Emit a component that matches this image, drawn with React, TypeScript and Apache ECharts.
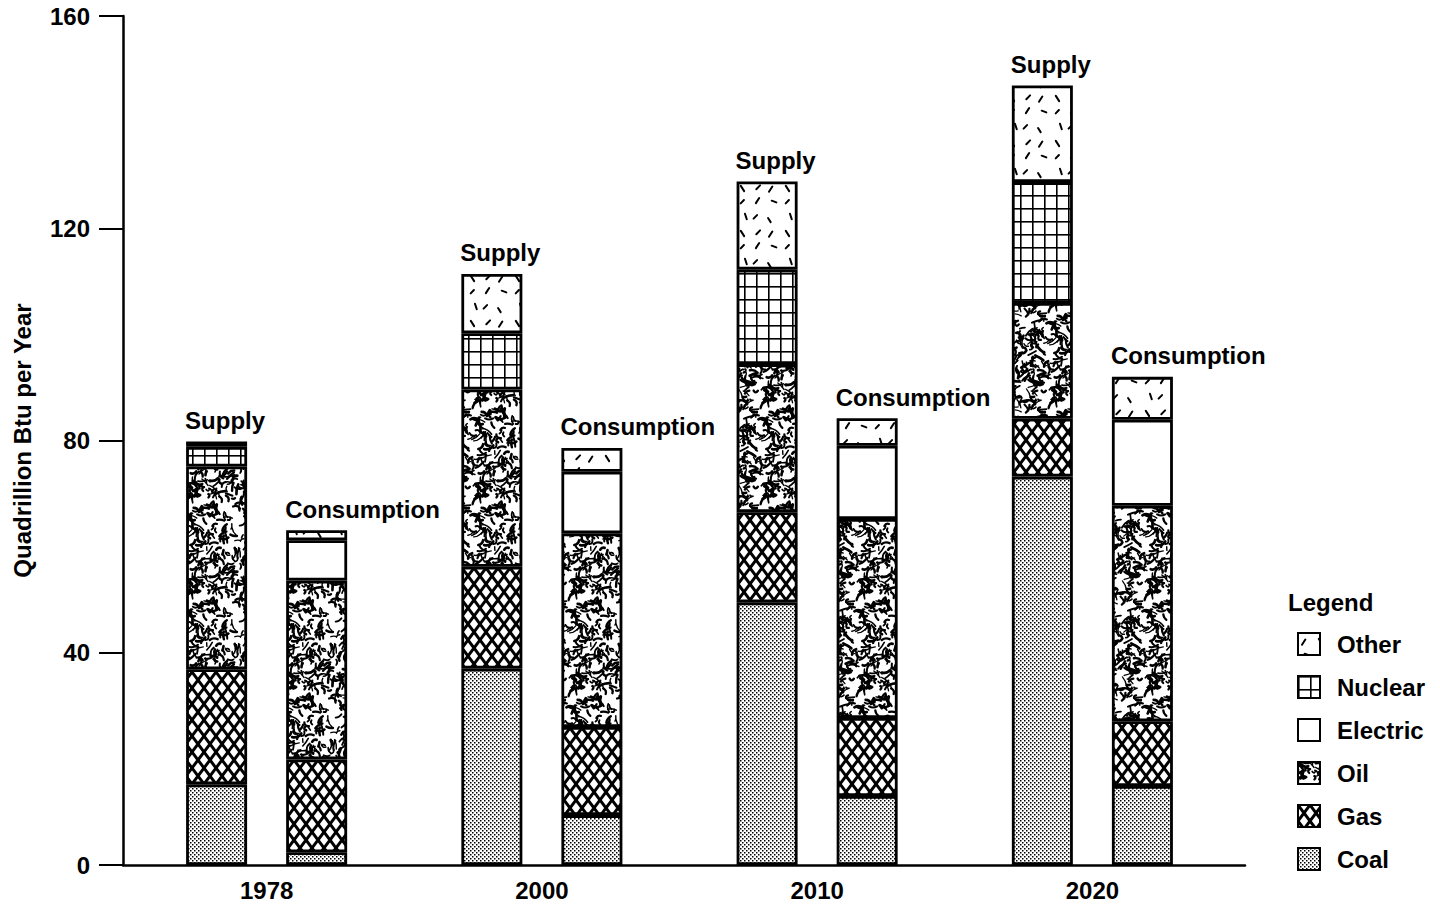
import React, { useEffect, useRef } from 'react';
import * as echarts from 'echarts';

// ---- data (Quadrillion Btu per Year) ----
const years = ['1978', '2000', '2010', '2020'];

const supplyCoal = [15.2, 37.0, 49.5, 73.2];
const supplyGas = [21.7, 19.2, 17.0, 10.9];
const supplyOil = [38.2, 33.4, 27.9, 21.8];
const supplyNuclear = [3.7, 10.6, 17.8, 22.8];
const supplyOther = [1.0, 11.2, 16.6, 18.2];

const consCoal = [2.4, 9.4, 13.0, 14.9];
const consGas = [17.5, 16.6, 14.7, 12.2];
const consOil = [33.7, 36.5, 37.5, 40.6];
const consElectric = [7.6, 11.6, 13.8, 16.2];
const consOther = [1.9, 4.5, 5.2, 8.1];

const legendOrder = ['Other', 'Nuclear', 'Electric', 'Oil', 'Gas', 'Coal'];
const yMin = 0;
const yMax = 160;
const yInterval = 40;

const FONT = '"Liberation Sans", Arial, Helvetica, sans-serif';

// ---- deterministic texture helpers ----
function seeded(seed: number) {
  let s = seed >>> 0;
  return () => {
    s = (Math.imul(s, 1664525) + 1013904223) >>> 0;
    return s / 4294967296;
  };
}

function makeTile(w: number, h: number, draw: (ctx: CanvasRenderingContext2D, w: number, h: number) => void) {
  const c = document.createElement('canvas');
  c.width = w;
  c.height = h;
  const ctx = c.getContext('2d') as CanvasRenderingContext2D;
  ctx.fillStyle = '#ffffff';
  ctx.fillRect(0, 0, w, h);
  draw(ctx, w, h);
  return { image: c, repeat: 'repeat', imageWidth: w, imageHeight: h } as any;
}

function wrapDraw(w: number, h: number, fn: (dx: number, dy: number) => void) {
  for (const dx of [-w, 0, w]) for (const dy of [-h, 0, h]) fn(dx, dy);
}

function buildPatterns() {
  const coal = makeTile(4, 4, (ctx) => {
    ctx.fillStyle = '#000';
    ctx.fillRect(0, 0, 1.5, 1.5);
    ctx.fillRect(2, 2, 1.5, 1.5);
  });

  const gas = makeTile(12, 16, (ctx, w, h) => {
    ctx.strokeStyle = '#000';
    ctx.lineWidth = 3;
    wrapDraw(w, h, (dx, dy) => {
      ctx.beginPath();
      ctx.moveTo(dx, dy);
      ctx.lineTo(dx + w, dy + h);
      ctx.moveTo(dx + w, dy);
      ctx.lineTo(dx, dy + h);
      ctx.stroke();
    });
  });

  const oil = makeTile(96, 96, (ctx, w, h) => {
    const r = seeded(17);
    ctx.strokeStyle = '#000';
    ctx.lineCap = 'round';
    ctx.lineJoin = 'round';
    for (let i = 0; i < 330; i++) {
      const x = r() * w;
      const y = r() * h;
      const a = r() * Math.PI * 2;
      const len = 3 + r() * 7;
      const lw = 1.2 + r() * 1.6;
      const bend = (r() - 0.5) * 7;
      const x2 = x + Math.cos(a) * len;
      const y2 = y + Math.sin(a) * len;
      const cx = (x + x2) / 2 - Math.sin(a) * bend;
      const cy = (y + y2) / 2 + Math.cos(a) * bend;
      ctx.lineWidth = lw;
      wrapDraw(w, h, (dx, dy) => {
        ctx.beginPath();
        ctx.moveTo(x + dx, y + dy);
        ctx.quadraticCurveTo(cx + dx, cy + dy, x2 + dx, y2 + dy);
        ctx.stroke();
      });
    }
  });

  const nuclear = makeTile(12, 13, (ctx) => {
    ctx.fillStyle = '#000';
    ctx.fillRect(0, 0, 12, 1.6);
    ctx.fillRect(0, 0, 1.6, 13);
  });

  const other = makeTile(45, 45, (ctx, w, h) => {
    const r = seeded(5);
    ctx.strokeStyle = '#000';
    ctx.lineCap = 'round';
    const angles = [1.0, -1.0, 0.35, -0.5, 1.25, -0.8];
    for (let i = 0; i < 3; i++) {
      for (let j = 0; j < 3; j++) {
        const cx = (i + 0.5) * 15 + (r() - 0.5) * 7;
        const cy = (j + 0.5) * 15 + (r() - 0.5) * 7;
        const a = angles[Math.floor(r() * angles.length)];
        const len = 4.5 + r() * 2;
        ctx.lineWidth = 2;
        wrapDraw(w, h, (dx, dy) => {
          ctx.beginPath();
          ctx.moveTo(cx + dx - (Math.cos(a) * len) / 2, cy + dy - (Math.sin(a) * len) / 2);
          ctx.lineTo(cx + dx + (Math.cos(a) * len) / 2, cy + dy + (Math.sin(a) * len) / 2);
          ctx.stroke();
        });
      }
    }
  });

  return { Coal: coal, Gas: gas, Oil: oil, Electric: '#ffffff', Nuclear: nuclear, Other: other } as Record<string, any>;
}

export default function App() {
  const ref = useRef<HTMLDivElement>(null);

  useEffect(() => {
    if (!ref.current) return;
    const chart = echarts.init(ref.current, undefined, { renderer: 'svg' });
    const pat = buildPatterns();

    const bar = (name: string, stack: string, data: number[], labelText?: string) => ({
      type: 'bar',
      name,
      stack,
      data,
      xAxisIndex: 1,
      yAxisIndex: 1,
      barWidth: 61,
      barGap: '64%',
      silent: true,
      itemStyle: { color: pat[name], borderColor: '#000', borderWidth: 2.8 },
      emphasis: { disabled: true },
      label: labelText
        ? {
            show: true,
            position: [-1, -9],
            align: 'left',
            verticalAlign: 'bottom',
            formatter: labelText,
            fontSize: 24,
            fontWeight: 'bold',
            fontFamily: FONT,
            color: '#000',
          }
        : { show: false },
    });

    const option: any = {
      animation: false,
      backgroundColor: '#ffffff',
      title: {
        text: 'Legend',
        left: 1283,
        top: 585,
        textStyle: { fontSize: 24, fontWeight: 'bold', fontFamily: FONT, color: '#000' },
      },
      legend: {
        orient: 'vertical',
        left: 1292,
        top: 627,
        itemWidth: 22,
        itemHeight: 22,
        itemGap: 19,
        icon: 'rect',
        data: legendOrder,
        selectedMode: false,
        itemStyle: { borderColor: '#000', borderWidth: 2 },
        textStyle: { fontSize: 24, fontWeight: 'bold', fontFamily: FONT, color: '#000', padding: [0, 0, 0, 12] },
      },
      grid: [
        { left: 123, right: 195, top: 16, bottom: 45 },
        { left: 129, width: 1101, top: 16, bottom: 45 },
      ],
      xAxis: [
        {
          type: 'value',
          gridIndex: 0,
          min: 0,
          max: 1,
          axisLine: { show: true, lineStyle: { color: '#000', width: 2.5 } },
          axisTick: { show: false },
          axisLabel: { show: false },
          splitLine: { show: false },
        },
        {
          type: 'category',
          gridIndex: 1,
          data: years,
          axisLine: { show: false },
          axisTick: { show: false },
          axisLabel: { margin: 13, fontSize: 24, fontWeight: 'bold', fontFamily: FONT, color: '#000' },
          splitLine: { show: false },
        },
      ],
      yAxis: [
        {
          type: 'value',
          gridIndex: 0,
          min: yMin,
          max: yMax,
          interval: yInterval,
          name: 'Quadrillion Btu per Year',
          nameLocation: 'middle',
          nameGap: 89,
          nameTextStyle: { fontSize: 24, fontWeight: 'bold', fontFamily: FONT, color: '#000' },
          axisLine: { show: true, lineStyle: { color: '#000', width: 2.5 } },
          axisTick: { show: true, length: 24, inside: false, lineStyle: { color: '#000', width: 2 } },
          axisLabel: { margin: 33, fontSize: 24, fontWeight: 'bold', fontFamily: FONT, color: '#000' },
          splitLine: { show: false },
        },
        {
          type: 'value',
          gridIndex: 1,
          min: yMin,
          max: yMax,
          interval: yInterval,
          show: false,
          splitLine: { show: false },
        },
      ],
      series: [
        bar('Coal', 'supply', supplyCoal),
        bar('Gas', 'supply', supplyGas),
        bar('Oil', 'supply', supplyOil),
        bar('Nuclear', 'supply', supplyNuclear),
        bar('Other', 'supply', supplyOther, 'Supply'),
        bar('Coal', 'consumption', consCoal),
        bar('Gas', 'consumption', consGas),
        bar('Oil', 'consumption', consOil),
        bar('Electric', 'consumption', consElectric),
        bar('Other', 'consumption', consOther, 'Consumption'),
      ],
    };

    chart.setOption(option);
    return () => {
      chart.dispose();
    };
  }, []);

  return (
    <div
      ref={ref}
      style={{ position: 'fixed', left: 0, top: 0, width: 1440, height: 910, background: '#fff' }}
    />
  );
}
